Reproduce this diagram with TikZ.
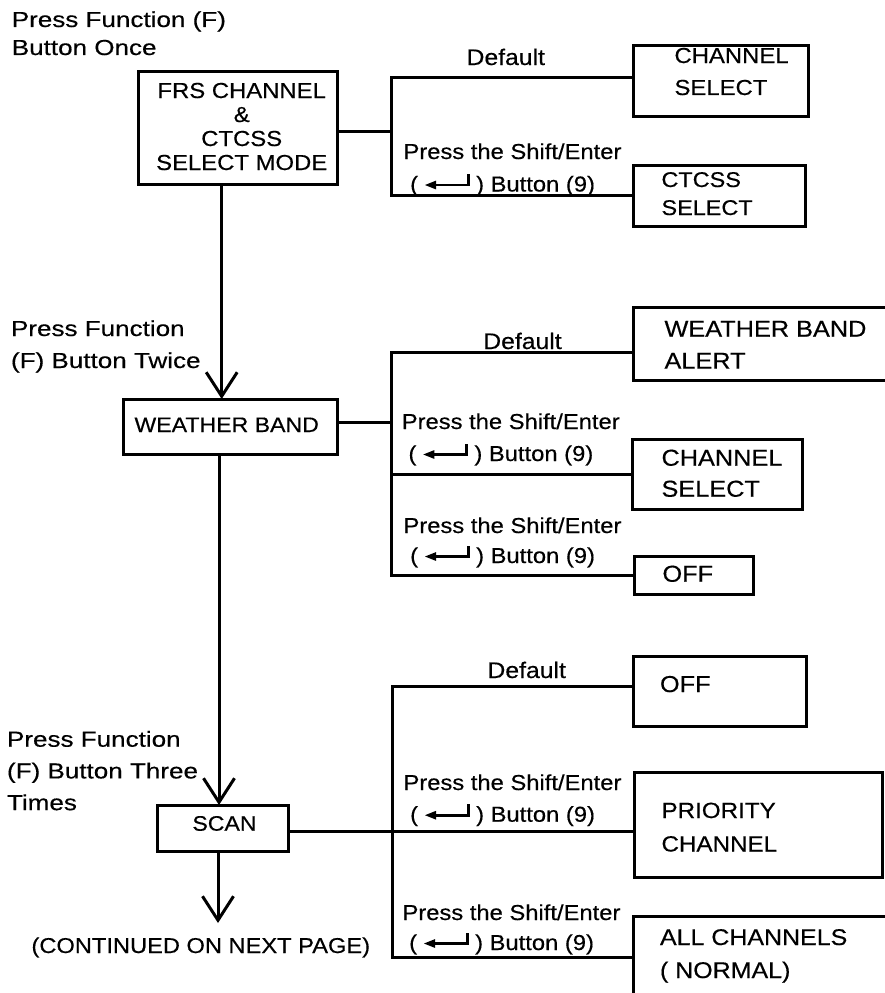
\documentclass[tikz,border=0pt]{standalone}
\usepackage{fontspec}
\setmainfont[FakeStretch=1.1,FakeBold=0.4]{Liberation Sans}
\newfontfamily\widefont[FakeStretch=1.2,FakeBold=0.4]{Liberation Sans}
\usetikzlibrary{arrows.meta}
\newcommand{\TabL}[1]{\begin{tabular}[t]{@{}l@{}}#1\end{tabular}}
\newcommand{\TabC}[1]{\begin{tabular}[t]{@{}c@{}}#1\end{tabular}}
\begin{document}
\begin{tikzpicture}[x=1pt,y=-1pt,
  box/.style={draw, line width=3pt, inner sep=0pt, outer sep=0pt, anchor=north west},
  conn/.style={line width=3pt},
  arr/.style={conn, -{Straight Barb[length=24pt,width=31pt]}},
  txt/.style={inner sep=0pt, outer sep=0pt, anchor=base west},
  ctxt/.style={inner sep=0pt, outer sep=0pt, anchor=base},
  fs/.style 2 args={font=\fontsize{#1}{#2}\selectfont},
  wfs/.style 2 args={font=\widefont\fontsize{#1}{#2}\selectfont},
  enterkey/.pic={
    \fill (0,0) -- (11,-4.4) -- (11,4.4) -- cycle;
    \draw[line width=2.8pt] (9,0) -- (43.2,0) -- (43.2,-11);
  }
]
\useasboundingbox (0,0) rectangle (885,993);
\clip (0,0) rectangle (885,993);

% ---------- boxes ----------
\node[box, minimum width=199pt, minimum height=113pt] (frs) at (138,71) {};
\node[box, minimum width=175pt, minimum height=71pt] (cs1) at (633,45) {};
\node[box, minimum width=172pt, minimum height=61pt] (ct1) at (633,165) {};
\node[box, minimum width=214pt, minimum height=55pt] (wb) at (123,399) {};
\node[box, minimum width=280pt, minimum height=73pt] (wba) at (633,307) {};
\node[box, minimum width=170pt, minimum height=70pt] (cs2) at (632,439) {};
\node[box, minimum width=119pt, minimum height=38pt] (off1) at (634,556) {};
\node[box, minimum width=131pt, minimum height=46pt] (scan) at (157,805) {};
\node[box, minimum width=173pt, minimum height=70pt] (off2) at (633,656) {};
\node[box, minimum width=248pt, minimum height=105pt] (pri) at (634,772) {};
\node[box, minimum width=280pt, minimum height=84pt] (all) at (633,916) {};

% ---------- box texts ----------
\node[ctxt, fs={21.7}{24}] (frsT) at (241.7,98) {\TabC{FRS CHANNEL\\\&\\CTCSS\\SELECT MODE}};
\node[txt, fs={21.7}{32}] (cs1T) at (674.5,63) {\TabL{CHANNEL\\SELECT}};
\node[txt, fs={21.3}{28}] (ct1T) at (661.5,187) {\TabL{CTCSS\\SELECT}};
\node[txt, fs={21}{24}] (wbT) at (134.5,432) {WEATHER BAND};
\node[txt, fs={23}{32}] (wbaT) at (664.5,336.7) {\TabL{WEATHER BAND\\ALERT}};
\node[txt, fs={23}{31}] (cs2T) at (661.5,465.7) {\TabL{CHANNEL\\SELECT}};
\node[txt, fs={23}{28}] (off1T) at (662.5,581.7) {OFF};
\node[ctxt, fs={21}{24}] (scanT) at (224.5,830.7) {SCAN};
\node[txt, fs={23}{28}] (off2T) at (660,692) {OFF};
\node[txt, fs={22}{33.5}] (priT) at (661.5,818) {\TabL{PRIORITY\\CHANNEL}};
\node[txt, fs={22.7}{33}] (allT) at (660,945) {\TabL{ALL CHANNELS\\( NORMAL)}};
\node[txt, fs={21.5}{24}] (contT) at (31.5,953) {(CONTINUED ON NEXT PAGE)};

% ---------- left labels ----------
\node[txt, wfs={21.7}{28}] (l1) at (11.8,27) {\TabL{Press Function (F)\\Button Once}};
\node[txt, wfs={21.7}{32}] (l2) at (11,336) {\TabL{Press Function\\(F) Button Twice}};
\node[txt, wfs={21.7}{31.7}] (l3) at (7,746.7) {\TabL{Press Function\\(F) Button Three\\Times}};

% ---------- default labels ----------
\node[ctxt, fs={22.5}{28}] (d1) at (505.8,65) {Default};
\node[ctxt, fs={22.5}{28}] (d2) at (522.5,349) {Default};
\node[ctxt, fs={22.5}{28}] (d3) at (526.7,678) {Default};

% ---------- shift/enter labels ----------
\node[txt, fs={21.6}{30}] (shA) at (403.5,159) {Press the Shift/Enter};
\node[txt, fs={21.6}{30}] (shAb) at (410.2,191.5) {(\hspace{58pt}) Button (9)};
\pic at ([shift={(14.8,-6.5)}]shAb.base west) {enterkey};

\node[txt, fs={21.6}{30}] (shB) at (401.8,429) {Press the Shift/Enter};
\node[txt, fs={21.6}{30}] (shBb) at (408.5,461) {(\hspace{58pt}) Button (9)};
\pic at ([shift={(14.8,-6.5)}]shBb.base west) {enterkey};

\node[txt, fs={21.6}{30}] (shC) at (403.5,533) {Press the Shift/Enter};
\node[txt, fs={21.6}{30}] (shCb) at (410.2,563) {(\hspace{58pt}) Button (9)};
\pic at ([shift={(14.8,-6.5)}]shCb.base west) {enterkey};

\node[txt, fs={21.6}{30}] (shD) at (403.5,790) {Press the Shift/Enter};
\node[txt, fs={21.6}{30}] (shDb) at (410.2,821.7) {(\hspace{58pt}) Button (9)};
\pic at ([shift={(14.8,-6.5)}]shDb.base west) {enterkey};

\node[txt, fs={21.6}{30}] (shE) at (402.5,920) {Press the Shift/Enter};
\node[txt, fs={21.6}{30}] (shEb) at (409.2,950) {(\hspace{58pt}) Button (9)};
\pic at ([shift={(14.8,-6.5)}]shEb.base west) {enterkey};

% ---------- main flow ----------
\draw[arr] ([xshift=-15.8]frs.south) -- ([xshift=-8.3]wb.north);
\draw[arr] ([xshift=-11]wb.south) -- ([xshift=-3.5]scan.north);
\coordinate (cont) at (218,923);
\draw[arr] ([xshift=-4.5]scan.south) -- (cont);

% ---------- branch 1 ----------
\coordinate (b1) at (391.5,131);
\draw[conn] ([yshift=-3.5]frs.east) -- (b1);
\draw[conn] ([yshift=3.2]cs1.west) -| (b1) |- (ct1.west);

% ---------- branch 2 ----------
\coordinate (b2) at (391,422.7);
\draw[conn] ([yshift=3.8]wb.east) -- (b2);
\draw[conn] ([yshift=-8.8]wba.west) -| (b2) |- (off1.west);
\draw[conn] (b2 |- cs2.west) -- (cs2.west);

% ---------- branch 3 ----------
\coordinate (b3) at (392,831);
\draw[conn] ([yshift=-3]scan.east) -- ([yshift=-6.5]pri.west);
\draw[conn] ([yshift=5]off2.west) -| (b3) |- ([yshift=1]all.west);
\end{tikzpicture}
\end{document}
